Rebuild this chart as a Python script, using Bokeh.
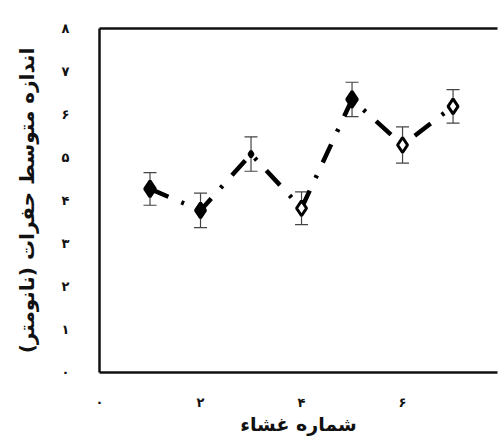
from bokeh.plotting import figure
from bokeh.models import ColumnDataSource, Whisker, TeeHead, FixedTicker, Range1d, LinearAxis
from bokeh.embed import file_html
from bokeh.resources import INLINE

# data
membrane = [1, 2, 3, 4, 5, 6, 7]
pore_size = [4.27, 3.77, 5.08, 3.82, 6.35, 5.29, 6.19]
pore_err = [0.38, 0.40, 0.40, 0.38, 0.40, 0.42, 0.39]
x_ticks = [0, 2, 4, 6]
y_ticks = [0, 1, 2, 3, 4, 5, 6, 7, 8]
fa_digits = ["۰", "۱", "۲", "۳", "۴", "۵", "۶", "۷", "۸"]
x_title = "شماره غشاء"
y_title = "اندازه متوسط حفرات (نانومتر)"

# styles
fills = ["black", "black", "black", "white", "black", "white", "white"]
sizes = [16, 15, 6, 15, 16, 15, 15]

src = ColumnDataSource(dict(
    x=membrane, y=pore_size,
    upper=[v + e for v, e in zip(pore_size, pore_err)],
    lower=[v - e for v, e in zip(pore_size, pore_err)],
    fill=fills, size=sizes,
))

p = figure(width=498, height=437, output_backend="svg", toolbar_location=None,
           x_range=Range1d(0, 7.88), y_range=Range1d(0, 8),
           min_border_left=99, min_border_top=28, min_border_bottom=64, min_border_right=1)
p.outline_line_color = None
p.grid.grid_line_color = None
p.background_fill_color = "white"

FONT = "DejaVu Sans"
for ax, ticks in ((p.xaxis[0], x_ticks), (p.yaxis[0], y_ticks)):
    ax.ticker = FixedTicker(ticks=ticks)
    ax.major_label_overrides = {t: fa_digits[t] for t in ticks}
    ax.major_tick_line_color = None
    ax.minor_tick_line_color = None
    ax.axis_line_width = 2.5
    ax.axis_line_color = "#111111"
    ax.major_label_text_font = FONT
    ax.major_label_text_font_style = "bold"
    ax.major_label_text_font_size = "13px"
    ax.major_label_text_color = "#111111"
    ax.major_label_standoff = 24
    ax.axis_label_text_font = FONT
    ax.axis_label_text_font_style = "bold"
    ax.axis_label_text_font_size = "20px"
    ax.axis_label_text_color = "#111111"

p.xaxis[0].axis_label = x_title
p.xaxis[0].major_label_standoff = 16
p.xaxis[0].axis_label_standoff = 0
p.xaxis[0].axis_label_text_font_size = "19px"
p.yaxis[0].axis_label = y_title
p.yaxis[0].axis_label_standoff = 20

top = LinearAxis(ticker=FixedTicker(ticks=[]), major_label_text_font_size="0px",
                 axis_line_width=2.5, axis_line_color="#111111",
                 major_tick_line_color=None, minor_tick_line_color=None)
p.add_layout(top, "above")

p.line("x", "y", source=src, line_color="black", line_width=4.5, line_dash="20 14 3 14")

wh = Whisker(source=src, base="x", upper="upper", lower="lower",
             line_color="#444444", line_width=1.2,
             upper_head=TeeHead(size=13, line_color="#444444", line_width=1.2),
             lower_head=TeeHead(size=13, line_color="#444444", line_width=1.2))
p.add_layout(wh)

p.scatter("x", "y", source=src, marker="diamond", size="size", fill_color="fill",
          line_color="black", line_width=3)

open("out.html", "w").write(file_html(p, INLINE))
